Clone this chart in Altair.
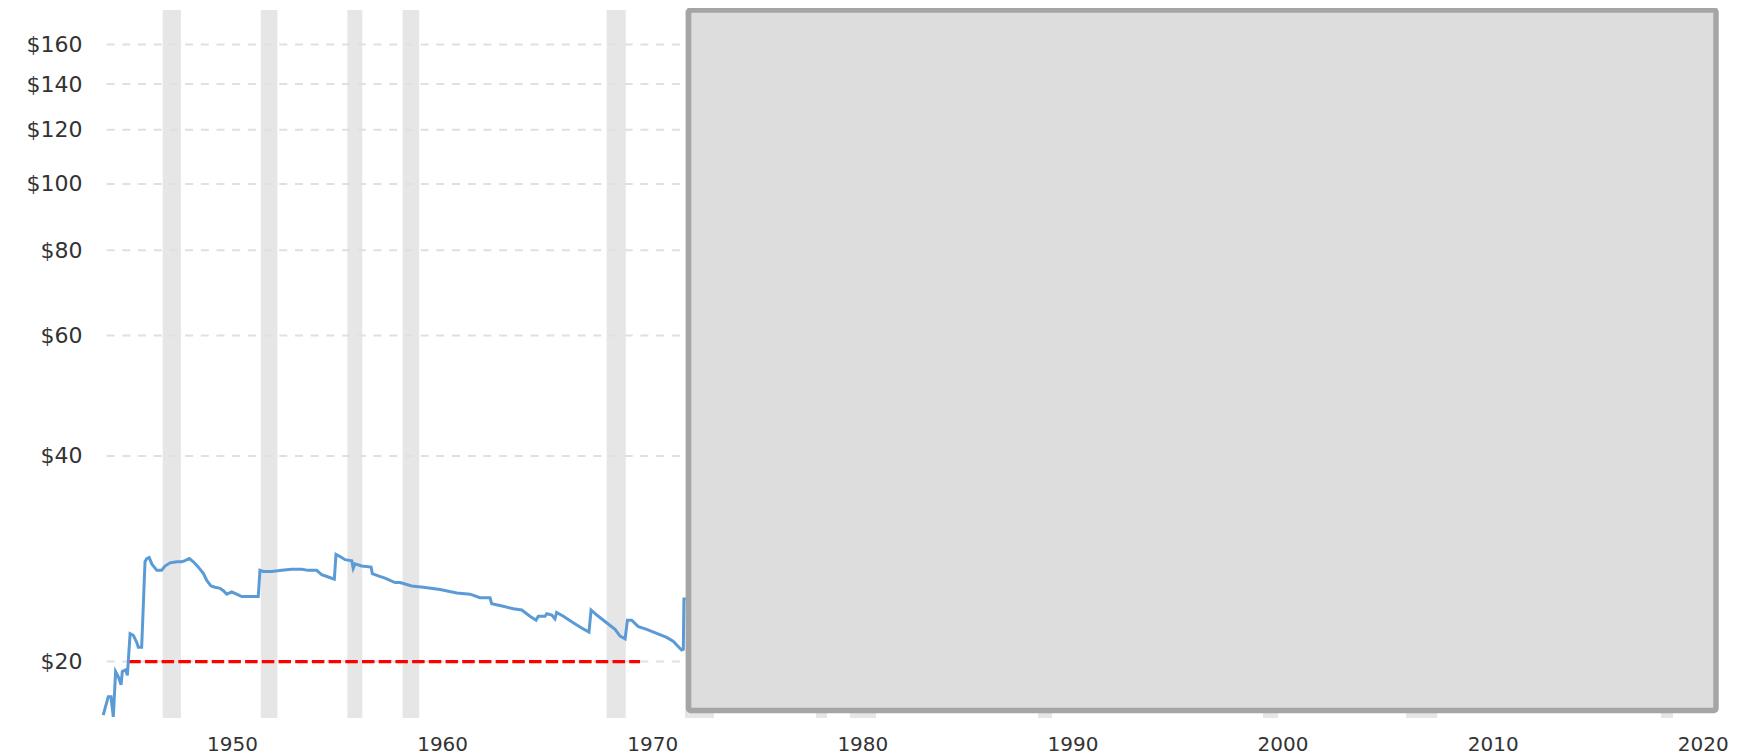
import altair as alt
import pandas as pd

# ---- data ----
line_years = [1943.87, 1944.11, 1944.24, 1944.35, 1944.46, 1944.59, 1944.72, 1944.78, 1944.94, 1945.02,
              1945.15, 1945.30, 1945.46, 1945.54, 1945.70, 1945.86, 1945.94, 1946.06, 1946.18, 1946.42,
              1946.65, 1946.81, 1947.05, 1947.37, 1947.61, 1947.76, 1947.97, 1948.16, 1948.40, 1948.64,
              1948.80, 1949.00, 1949.19, 1949.43, 1949.59, 1949.75, 1949.99, 1950.22, 1950.46, 1950.78,
              1951.01, 1951.25, 1951.33, 1951.49, 1951.89, 1952.37, 1952.84, 1953.32, 1953.63, 1954.03,
              1954.27, 1954.58, 1954.87, 1954.95, 1955.14, 1955.38, 1955.70, 1955.77, 1955.85, 1956.17,
              1956.62, 1956.68, 1956.96, 1957.28, 1957.76, 1958.00, 1958.55, 1959.11, 1959.90, 1960.70,
              1961.33, 1961.80, 1962.28, 1962.36, 1962.91, 1963.39, 1963.79, 1964.18, 1964.47, 1964.58,
              1964.90, 1964.98, 1965.22, 1965.37, 1965.45, 1965.77, 1966.24, 1966.64, 1966.99, 1967.09,
              1967.36, 1967.83, 1968.23, 1968.47, 1968.71, 1968.82, 1969.02, 1969.34, 1969.74, 1970.21,
              1970.69, 1971.01, 1971.20, 1971.40, 1971.48, 1971.51, 1971.60]
line_prices = [16.7, 17.77, 17.77, 16.6, 19.34, 19.0, 18.5, 19.34, 19.45, 19.1,
               21.98, 21.85, 21.37, 21.0, 21.0, 28.0, 28.3, 28.4, 27.8, 27.2,
               27.2, 27.6, 27.9, 28.0, 28.0, 28.1, 28.3, 28.0, 27.5, 26.9,
               26.3, 25.8, 25.7, 25.6, 25.4, 25.1, 25.3, 25.1, 24.9, 24.9,
               24.9, 24.9, 27.2, 27.1, 27.1, 27.2, 27.3, 27.3, 27.2, 27.2,
               26.8, 26.6, 26.4, 28.7, 28.5, 28.2, 28.1, 27.4, 27.8, 27.6,
               27.5, 26.9, 26.7, 26.5, 26.1, 26.1, 25.8, 25.7, 25.5, 25.2,
               25.1, 24.8, 24.8, 24.3, 24.1, 23.9, 23.8, 23.3, 23.0, 23.3,
               23.3, 23.5, 23.4, 23.1, 23.6, 23.3, 22.8, 22.4, 22.1, 23.8,
               23.4, 22.8, 22.3, 21.8, 21.6, 23.0, 23.0, 22.5, 22.3, 22.0,
               21.7, 21.4, 21.1, 20.8, 20.85, 24.7, 24.7]

band_starts = [1946.70, 1951.37, 1955.49, 1958.12, 1967.83, 1971.56, 1977.80, 1979.41, 1988.36, 1999.07, 2005.88, 2018.01]
band_ends = [1947.57, 1952.16, 1956.20, 1958.91, 1968.74, 1972.94, 1978.32, 1980.65, 1989.03, 1999.79, 2007.36, 2018.58]

ref_start = [1945.06]
ref_end = [1969.42]
ref_value = [20]

grid_values = [20, 40, 60, 80, 100, 120, 140, 160]
year_ticks = [1950, 1960, 1970, 1980, 1990, 2000, 2010, 2020]

box_x = [1971.73]
box_x2 = [2020.63]
box_y = [179.7]
box_y2 = [16.97]

x_domain = [1943.86, 2020.63]
y_domain = [16.54, 179.7]

W, H = 1613, 708
FONT = "DejaVu Sans"

line_df = pd.DataFrame({"year": line_years, "price": line_prices})
band_df = pd.DataFrame({"start": band_starts, "end": band_ends})
ref_df = pd.DataFrame({"start": ref_start, "end": ref_end, "value": ref_value})
grid_df = pd.DataFrame({"v": grid_values})
box_df = pd.DataFrame({"x": box_x, "x2": box_x2, "y": box_y, "y2": box_y2})

xscale = alt.Scale(domain=x_domain, nice=False, zero=False)
yscale = alt.Scale(type="log", domain=y_domain, nice=False)

xaxis = alt.Axis(values=year_ticks, format="d", title=None, grid=False, domain=False,
                 ticks=False, tickSize=0, labelPadding=16, labelFont=FONT, labelFontSize=20,
                 labelColor="#333333", labelOverlap=False)
yaxis = alt.Axis(values=grid_values, labelExpr="'$' + datum.value", title=None, grid=False,
                 domain=False, ticks=False, tickSize=0, labelPadding=21, labelFont=FONT,
                 labelFontSize=22, labelColor="#333333", labelBaseline="middle")

bands = alt.Chart(band_df).mark_rect(color="#e6e6e6").encode(
    x=alt.X("start:Q", scale=xscale, axis=xaxis),
    x2="end:Q",
)

grid = alt.Chart(grid_df).mark_rule(color="#e0e0e0", strokeWidth=2, strokeDash=[8, 7.7]).encode(
    y=alt.Y("v:Q", scale=yscale, axis=yaxis),
)

ref = alt.Chart(ref_df).mark_rule(color="#ff0000", strokeWidth=3.4, strokeDash=[12.5, 4.2]).encode(
    x=alt.X("start:Q", scale=xscale),
    x2="end:Q",
    y=alt.Y("value:Q", scale=yscale),
)

line = alt.Chart(line_df).mark_line(color="#5b9bd5", strokeWidth=3, interpolate="linear").encode(
    x=alt.X("year:Q", scale=xscale),
    y=alt.Y("price:Q", scale=yscale),
)

box = alt.Chart(box_df).mark_rect(fill="#dddddd", stroke="#a5a5a5", strokeWidth=5.5,
                                  cornerRadius=2).encode(
    x=alt.X("x:Q", scale=xscale),
    x2="x2:Q",
    y=alt.Y("y:Q", scale=yscale),
    y2="y2:Q",
)

chart = alt.layer(bands, grid, ref, line, box).properties(
    width=W,
    height=H,
    autosize=alt.AutoSizeParams(type="none"),
    padding={"left": 95, "top": 2, "right": 20, "bottom": 42},
    background="white",
).configure_view(stroke=None)

chart.save("out.html", embed_options={"renderer": "svg", "actions": False})
